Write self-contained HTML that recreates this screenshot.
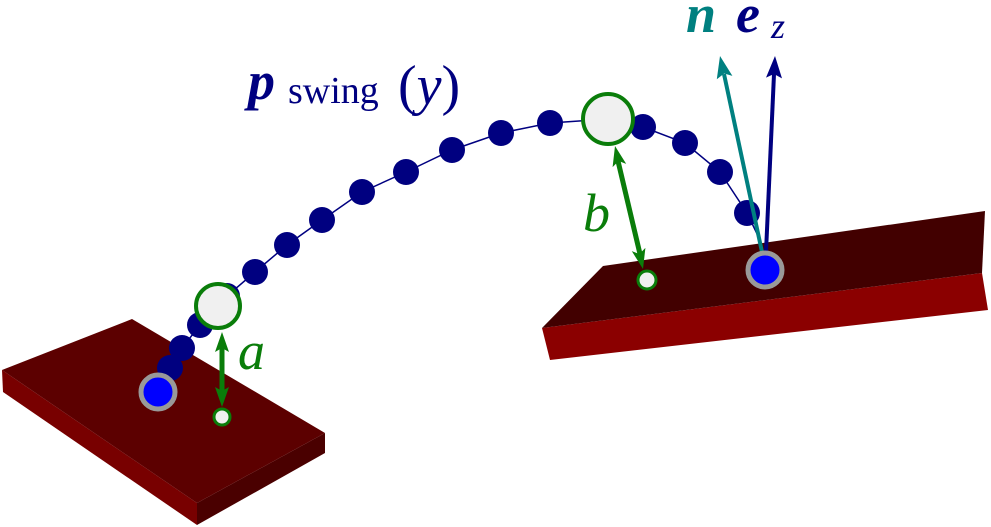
<!DOCTYPE html>
<html><head><meta charset="utf-8"><style>
body{margin:0;background:#fff;}
svg{display:block;}
text{font-family:"Liberation Serif",serif;}
</style></head><body>
<svg width="991" height="527" viewBox="0 0 991 527" xmlns="http://www.w3.org/2000/svg">
<!-- left block -->
<polygon points="2,370 197,503 197,525 3,392" fill="#780000"/>
<polygon points="197,503 325,433 325,453 197,525" fill="#4a0000"/>
<polygon points="2,370 132,319 325,433 197,503" fill="#5c0000"/>
<!-- right block -->
<polygon points="542,328 982,273 988,310 550,360" fill="#8b0000"/>
<polygon points="603,266 985,211 982,273 542,328" fill="#420000"/>
<!-- curve -->
<polyline points="158,392 170,368 182,348 200,325 218,306 227,296 255,272 287,245 322,220 362,192 406,172 452,150 501,133 550,123 608,119 643,127 685,143 720,172 747,213 760,240" fill="none" stroke="#000080" stroke-width="1.5"/>
<g fill="#000080">
<circle cx="170" cy="368" r="13"/><circle cx="182" cy="348" r="13"/><circle cx="200" cy="325" r="13"/>
<circle cx="227" cy="296" r="13"/><circle cx="255" cy="272" r="13"/><circle cx="287" cy="245" r="13"/>
<circle cx="322" cy="220" r="13"/><circle cx="362" cy="192" r="13"/><circle cx="406" cy="172" r="13"/>
<circle cx="452" cy="150" r="13"/><circle cx="501" cy="133" r="13"/><circle cx="550" cy="123" r="13"/>
<circle cx="643" cy="127" r="13"/><circle cx="685" cy="143" r="13"/><circle cx="720" cy="172" r="13"/>
<circle cx="747" cy="213" r="13"/>
</g>
<!-- vectors -->
<line x1="762" y1="252" x2="724" y2="74" stroke="#008080" stroke-width="4"/>
<polygon points="720,56 732.4,75.9 724.2,73.5 716.8,79.3" fill="#008080"/>
<line x1="766" y1="252" x2="774" y2="74" stroke="#000080" stroke-width="4"/>
<polygon points="775,56 782,78.4 774,74 766,77.6" fill="#000080"/>
<!-- feet -->
<circle cx="158" cy="392" r="17" fill="#0000ff" stroke="#999" stroke-width="5"/>
<circle cx="765" cy="270" r="17" fill="#0000ff" stroke="#999" stroke-width="5"/>
<!-- green circles -->
<circle cx="218" cy="306" r="22" fill="#f0f0f0" stroke="#0a7d0a" stroke-width="4"/>
<circle cx="608" cy="119" r="25" fill="#f0f0f0" stroke="#0a7d0a" stroke-width="4"/>
<circle cx="222" cy="417" r="8" fill="#f0f0f0" stroke="#0a7d0a" stroke-width="3"/>
<circle cx="647" cy="280" r="9" fill="#f0f0f0" stroke="#0a7d0a" stroke-width="3"/>
<line x1="222" y1="348" x2="222" y2="391" stroke="#0a7d0a" stroke-width="5"/>
<polygon points="222,332 229,352 222,348 215,352" fill="#0a7d0a"/>
<polygon points="222,407 229,387 222,391 215,387" fill="#0a7d0a"/>
<line x1="618" y1="161" x2="640" y2="254" stroke="#0a7d0a" stroke-width="5"/>
<polygon points="615,146 626.2,163.9 618.6,161 612.6,167.1" fill="#0a7d0a"/>
<polygon points="643,269 645.4,247.9 639.4,254 631.8,251.1" fill="#0a7d0a"/>
<!-- labels -->
<text x="238" y="369" font-size="54" font-style="italic" fill="#0a7d0a">a</text>
<text x="583" y="231" font-size="54" font-style="italic" fill="#0a7d0a">b</text>
<text x="248" y="99" font-size="54" font-style="italic" font-weight="bold" fill="#000080">p</text>
<text x="288" y="103" font-size="38" fill="#000080">swing</text>
<text x="398" y="104" font-size="56" fill="#000080">(<tspan font-style="italic">y</tspan>)</text>
<text x="686" y="32" font-size="54" font-style="italic" font-weight="bold" fill="#008080">n</text>
<text x="736" y="32" font-size="54" font-style="italic" font-weight="bold" fill="#000080">e</text>
<text x="771" y="38" font-size="36" font-style="italic" fill="#000080">z</text>
</svg>
</body></html>
